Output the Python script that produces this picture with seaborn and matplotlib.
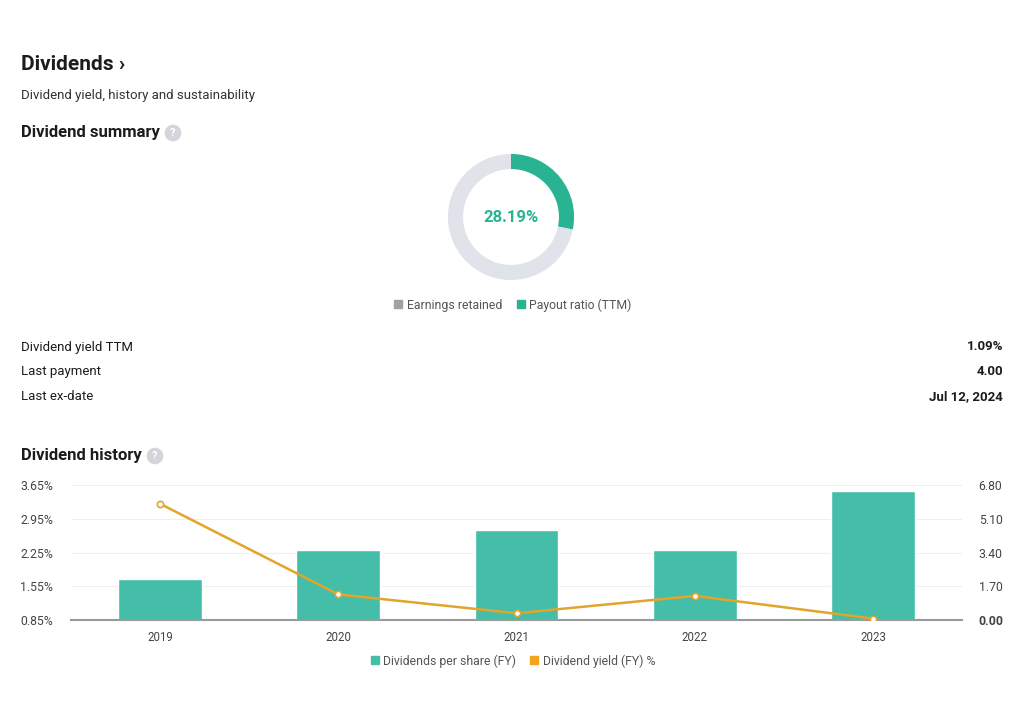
import matplotlib
matplotlib.use("Agg")
import matplotlib.pyplot as plt
from matplotlib.lines import Line2D
import pandas as pd
import seaborn as sns

# data
years = ["2019", "2020", "2021", "2022", "2023"]
dps = [2.05, 3.53, 4.53, 3.53, 6.51]
yield_pct = [3.26, 1.38, 0.99, 1.35, 0.88]
payout_ratio = 28.19
left_ticks = [0.85, 1.55, 2.25, 2.95, 3.65]
right_ticks = [0.00, 1.70, 3.40, 5.10, 6.80]
summary_labels = ["Dividend yield TTM", "Last payment", "Last ex-date"]
summary_values = ["1.09%", "4.00", "Jul 12, 2024"]

GREEN = "#2ab393"
BAR = "#44bea8"
RING_GRAY = "#e1e3eb"
LINE = "#e3a42b"
ORANGE = "#f5a21c"
DARK = "#1c1c1c"
TEXT = "#333333"
TICK = "#444444"

sns.set_theme(style="white")
plt.rcParams["font.family"] = ["Roboto", "DejaVu Sans"]

W, H = 1024, 718
fig = plt.figure(figsize=(W / 100, H / 100), dpi=100)


def fx(px):
    return px / W


def fy(py):
    return 1 - py / H


def help_icon(x, y):
    fig.text(fx(x), fy(y), "?", color="white", fontsize=8, fontweight="bold",
             ha="center", va="center",
             bbox=dict(boxstyle="circle,pad=0.3", fc="#d3d5da", ec="none"))


fig.text(fx(21), fy(65), "Dividends \u203a", fontsize=15, fontweight="bold", color=DARK, va="center")
fig.text(fx(21), fy(95), "Dividend yield, history and sustainability", fontsize=9.5, color=TEXT, va="center")
fig.text(fx(21), fy(133), "Dividend summary", fontsize=12, fontweight="bold", color=DARK, va="center")
help_icon(173, 133)

# donut
ax_d = fig.add_axes([fx(511 - 70), fy(217 + 70), fx(140), 140 / H])
ax_d.pie([payout_ratio, 100 - payout_ratio], colors=[GREEN, RING_GRAY], startangle=90,
         counterclock=False, radius=1, wedgeprops=dict(width=0.24, linewidth=0))
ax_d.set_xlim(-1.11, 1.11)
ax_d.set_ylim(-1.11, 1.11)
ax_d.set_aspect("auto")
ax_d.axis("off")
ax_d.text(0, 0, f"{payout_ratio:.2f}%", color=GREEN, fontsize=12, fontweight="bold", ha="center", va="center")

donut_handles = [
    Line2D([], [], marker="s", ls="", color="#9fa2a8", markersize=5.5),
    Line2D([], [], marker="s", ls="", color=GREEN, markersize=5.5),
]
fig.legend(donut_handles, ["Earnings retained", "Payout ratio (TTM)"], loc="center",
           bbox_to_anchor=(fx(512), fy(305)), ncol=2, frameon=False, fontsize=8.8,
           handletextpad=0.2, columnspacing=1.0, handlelength=1.0, labelcolor="#555555")

for i, (lab, val) in enumerate(zip(summary_labels, summary_values)):
    y = 347 + 25 * i
    fig.text(fx(21), fy(y), lab, fontsize=9.5, color=DARK, va="center")
    fig.text(fx(1003), fy(y), val, fontsize=9.5, color=DARK, va="center", ha="right", fontweight="bold")

fig.text(fx(21), fy(456), "Dividend history", fontsize=12, fontweight="bold", color=DARK, va="center")
help_icon(155, 456)

# history chart: bars on the right axis, yield line on the left axis
df = pd.DataFrame({"year": years, "dps": dps, "yield": yield_pct})
ax = fig.add_axes([fx(71), fy(620), fx(962 - 71), 135 / H])
sns.barplot(data=df, x="year", y="dps", color=BAR, width=0.47, saturation=1, ax=ax)
ax2 = ax.twinx()
sns.lineplot(data=df, x="year", y="yield", color=LINE, linewidth=1.8, marker="o",
             markersize=4.5, markerfacecolor="white", markeredgecolor=LINE, markeredgewidth=1.2, ax=ax2)

ax.set_ylim(0, 6.8)
ax.set_xlim(-0.5, 4.5)
ax.set_yticks(right_ticks)
ax.set_yticklabels([f"{v:.2f}" for v in right_ticks])
ax.grid(axis="y", color="#efefef", linewidth=0.8)
ax.set_axisbelow(True)
for s in ["top", "left", "right"]:
    ax.spines[s].set_visible(False)
ax.spines["bottom"].set_color("#9a9a9a")
ax.spines["bottom"].set_linewidth(1.5)
ax.set_xlabel("")
ax.set_ylabel("")
ax.tick_params(axis="x", length=0, labelsize=8.3, colors=TICK, pad=8)
ax.tick_params(axis="y", which="both", length=0, labelsize=8.8, colors=TICK, pad=12,
               left=False, right=True, labelleft=False, labelright=True)
ax.get_yticklabels()[0].set_fontweight("bold")

ax2.set_ylim(0.85, 3.65)
ax2.set_yticks(left_ticks)
ax2.set_yticklabels([f"{v:.2f}%" for v in left_ticks])
for s in ["top", "left", "right", "bottom"]:
    ax2.spines[s].set_visible(False)
ax2.set_ylabel("")
ax2.set_xlabel("")
ax2.tick_params(axis="y", which="both", length=0, labelsize=8.8, colors=TICK, pad=13,
                left=True, right=False, labelleft=True, labelright=False)

hist_handles = [
    Line2D([], [], marker="s", ls="", color=BAR, markersize=5.5),
    Line2D([], [], marker="s", ls="", color=ORANGE, markersize=5.5),
]
fig.legend(hist_handles, ["Dividends per share (FY)", "Dividend yield (FY) %"], loc="center",
           bbox_to_anchor=(fx(512), fy(661)), ncol=2, frameon=False, fontsize=8.8,
           handletextpad=0.2, columnspacing=1.0, handlelength=1.0, labelcolor="#555555")

fig.savefig("out.png", dpi=100, facecolor="white")
